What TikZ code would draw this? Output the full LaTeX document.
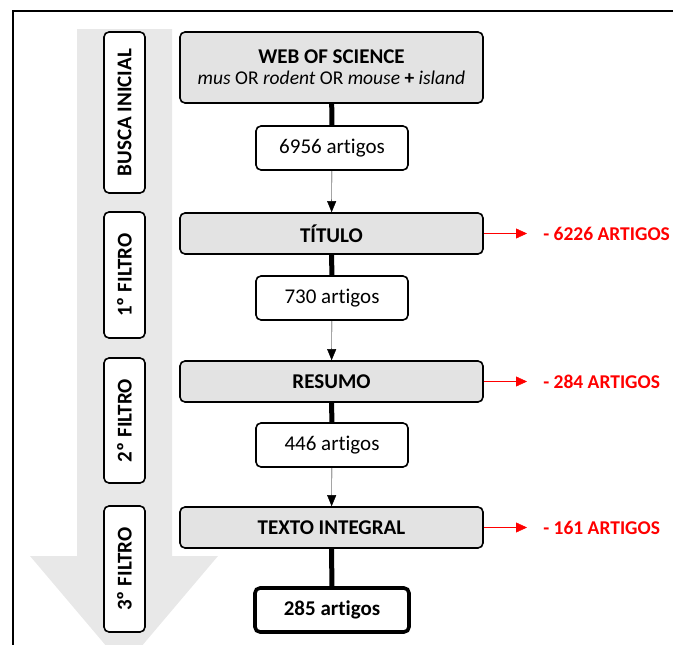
\documentclass[tikz,border=0pt]{standalone}
\usepackage{fontspec}
\setmainfont{Carlito}[Ligatures=NoCommon]
\usetikzlibrary{arrows.meta,positioning}
\begin{document}
\begin{tikzpicture}[x=1pt,y=-1pt,semithick,
  etapa/.style={draw,rounded corners=5pt,line width=1.6pt,fill=black!11,minimum width=303pt,minimum height=41pt,align=center,font=\fontsize{21}{24}\selectfont\bfseries},
  qtd/.style={draw,rounded corners=5pt,line width=1.6pt,fill=white,minimum width=152pt,minimum height=44pt,font=\fontsize{21}{24}\selectfont},
  fase/.style={draw,rounded corners=5pt,line width=1.6pt,fill=white,rotate=90,minimum height=41pt,font=\fontsize{21}{24}\selectfont\bfseries},
  exclu/.style={red,anchor=west,inner sep=0pt,font=\fontsize{19.5}{22}\selectfont\bfseries}]
\useasboundingbox(0,0)rectangle(673,645);
\begin{scope}
\clip(0,0)rectangle(673,645);
\fill[black!9](77,29)--(172,29)--(172,556)--(218,556)--(124,667)--(30,556)--(77,556)--cycle;
\end{scope}
\draw[line width=1.4pt](13,645)--(13,11)--(673,11);
% fases
\node[fase,minimum width=161pt](busca) at (124.5,112.5){BUSCA INICIAL};
\node[fase,minimum width=126pt](f1) at (124.5,275){1º FILTRO};
\node[fase,minimum width=125pt](f2) at (124.5,420.5){2º FILTRO};
\node[fase,minimum width=126pt](f3) at (124.5,569){3º FILTRO};
% etapas
\node[etapa,minimum height=71pt](web) at (331.5,67.5){WEB OF SCIENCE\\[-3pt]
  {\mdseries\fontsize{19.5}{22}\selectfont\textit{mus} OR \textit{rodent} OR \textit{mouse} \textbf{+} \textit{island}}};
\node[qtd](n1) at (332,148){6956 artigos};
\node[etapa](tit) at (331.5,233.5){TÍTULO};
\node[qtd](n2) at (332,298){730 artigos};
\node[etapa](res) at (331.5,381.5){RESUMO};
\node[qtd](n3) at (332,445){446 artigos};
\node[etapa](txt) at (331.5,527.5){TEXTO INTEGRAL};
\node[qtd,line width=3.6pt,minimum width=154pt,font=\fontsize{21}{24}\selectfont\bfseries](n4) at (332,610){285 artigos};
\draw[line width=5pt](web)--(n1)(tit)--(n2)(res)--(n3)(txt)--(n4);
\draw[thin,-{Triangle[length=11pt,width=9pt]}](n1)--(tit);
\draw[thin,-{Triangle[length=11pt,width=9pt]}](n2)--(res);
\draw[thin,-{Triangle[length=11pt,width=9pt]}](n3)--(txt);
% excluidos
\node[exclu](r1) at (543,233.5){- 6226 ARTIGOS};
\node[exclu](r2) at (543,381.5){- 284 ARTIGOS};
\node[exclu](r3) at (543,527.5){- 161 ARTIGOS};
\draw[red,thin,shorten >=16pt,-{Triangle[length=11pt,width=10pt]}](tit)--(r1);
\draw[red,thin,shorten >=16pt,-{Triangle[length=11pt,width=10pt]}](res)--(r2);
\draw[red,thin,shorten >=16pt,-{Triangle[length=11pt,width=10pt]}](txt)--(r3);
\end{tikzpicture}
\end{document}
